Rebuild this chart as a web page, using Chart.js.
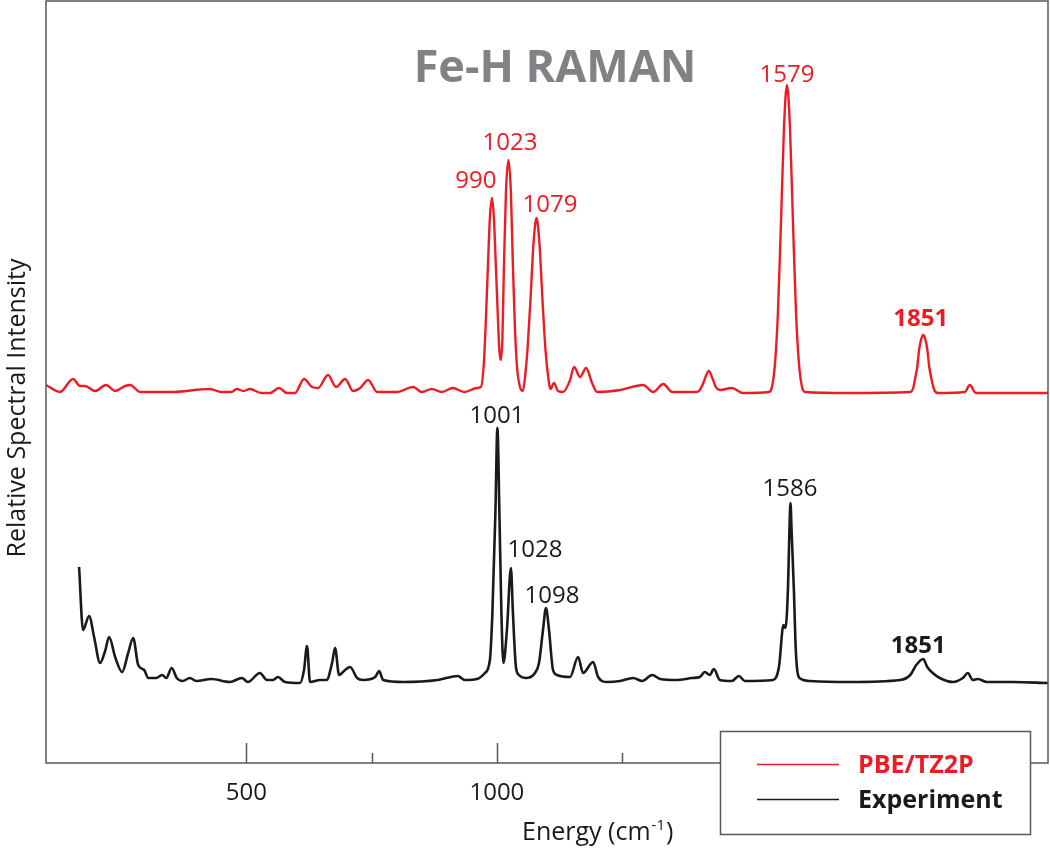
<!DOCTYPE html>
<html>
<head>
<meta charset="utf-8">
<script src="https://cdn.jsdelivr.net/npm/chart.js@4/dist/chart.umd.min.js"></script>
<style>
  html, body { margin: 0; padding: 0; background: #fff; }
  #wrap { width: 1050px; height: 848px; position: relative; }
</style>
</head>
<body>
<div id="wrap"><canvas id="raman-chart"></canvas></div>
<script>
// energies in cm-1, intensity in arbitrary units (curves are offset)
var calcEnergy = [
    100,128,154,168,178,198,220,238,258,268,
    288,350,427,450,470,481,494,507,530,547,
    565,581,597,615,631,643,663,679,697,713,
    727,743,761,781,800,833,850,870,890,912,
    935,960,968,974,978,982,986,990,994,998,
    1002,1005,1008,1011,1014,1018,1023,1028,1032,1036,
    1040,1046,1052,1057,1061,1067,1073,1079,1085,1091,
    1097,1101,1107,1114,1122,1132,1146,1154,1166,1178,
    1190,1200,1246,1292,1312,1332,1350,1399,1405,1412,
    1418,1423,1430,1437,1445,1469,1491,1543,1549,1555,
    1561,1567,1573,1579,1585,1591,1597,1603,1609,1615,
    1700,1825,1831,1835,1839,1843,1847,1851,1855,1859,
    1863,1867,1873,1880,1934,1944,1956,2100];
var calcIntensity = [
    378,371,384,377,377,372,378,372,377,378,
    371,371,374,371,371,374,372,374,370,370,
    375,370,370,384,376,375,388,376,384,372,
    375,383,371,371,371,376,371,374,371,375,
    371,375,376,400,443,496,545,565,545,496,
    445,412,403,425,496,570,603,570,496,435,
    397,376,372,390,413,463,519,545,519,463,
    413,392,374,380,372,371,383,396,386,395,
    380,371,373,378,371,379,371,371,373,380,
    388,392,385,376,373,375,370,371,376,399,
    451,540,635,678,635,540,451,399,376,371,
    370,371,375,385,396,414,424,428,424,414,
    396,385,373,370,371,378,370,370];

var expEnergy = [166,174,186,196,208,218,226,238,252,264,274,284,296,304,320,332,340,351,361,373,387,400,430,467,491,503,527,541,553,563,577,607,615,621,627,647,660,671,677,685,697,707,721,733,757,765,773,813,882,922,936,960,976,986,991,997,1001,1005,1009,1013,1020,1028,1032,1038,1044,1058,1076,1084,1092,1098,1104,1112,1120,1146,1162,1172,1192,1202,1220,1246,1272,1290,1310,1326,1359,1390,1405,1415,1425,1433,1445,1469,1483,1495,1551,1563,1572,1576,1581,1584,1586,1588,1593,1596,1599,1604,1625,1705,1805,1825,1837,1851,1859,1870,1884,1910,1930,1940,1950,1960,1978,2030,2100];
var expIntensity = [196,133,147,126,100,112,126,106,91,110,125,98,93,85,85,88,85,95,85,82,85,82,84,81,85,81,90,83,83,86,81,80,93,117,81,83,83,100,115,88,93,96,85,83,86,92,83,81,83,87,83,84,90,103,150,250,335,250,150,100,133,195,150,96,88,85,90,100,133,155,133,93,88,86,106,90,101,86,81,82,85,82,88,84,83,85,86,91,88,94,83,82,87,82,83,96,138,135,175,235,260,235,170,120,95,85,82,81,83,88,98,104,96,90,85,81,85,90,83,84,81,81,80];

var calcPeaks = ['990','1023','1079','1579','1851'];
var expPeaks = ['1001','1028','1098','1586','1851'];

var tickValues = [500,750,1000,1250,1500,1750,2000];
var majorTicks = [500,1000,1500,2000];
var tickLabels = [500,1000];

// where the peak labels sit (energy, intensity of text baseline)
var calcPeakPos = [[958,575],[1026,613],[1106,551],[1579,681],[1846,437]];
var expPeakPos = [[1000,340],[1076,206],[1110,160],[1585,267],[1841,110]];

function toPoints(xs, ys) {
    return xs.map(function (v, i) { return {x: v, y: ys[i]}; });
}

var FONT = '"Open Sans", "Noto Sans", sans-serif';

var decor = {
    id: 'decor',
    afterDraw: function (chart) {
        var ctx = chart.ctx, a = chart.chartArea;
        var xs = chart.scales.x, ys = chart.scales.y;
        ctx.save();

        // frame
        ctx.strokeStyle = '#58595b';
        ctx.lineWidth = 1.5;
        ctx.strokeRect(a.left, a.top, a.right - a.left, a.bottom - a.top);

        // inward tick marks
        xs.ticks.forEach(function (t) {
            var px = Math.round(xs.getPixelForValue(t.value)) + 0.5;
            var len = majorTicks.indexOf(t.value) >= 0 ? 20 : 10;
            ctx.beginPath();
            ctx.moveTo(px, a.bottom);
            ctx.lineTo(px, a.bottom - len);
            ctx.stroke();
        });

        // title
        ctx.fillStyle = '#808285';
        ctx.font = 'bold 45px ' + FONT;
        ctx.textAlign = 'center';
        ctx.textBaseline = 'alphabetic';
        ctx.fillText('Fe-H RAMAN', 555, 82);

        // peak labels
        function peakText(list, pos, color) {
            ctx.fillStyle = color;
            list.forEach(function (txt, i) {
                ctx.font = (i === list.length - 1 ? 'bold ' : '') + '24px ' + FONT;
                ctx.fillText(txt, xs.getPixelForValue(pos[i][0]), ys.getPixelForValue(pos[i][1]));
            });
        }
        peakText(calcPeaks, calcPeakPos, chart.data.datasets[0].borderColor);
        peakText(expPeaks, expPeakPos, '#1a1a1a');

        // axis titles
        ctx.fillStyle = '#1a1a1a';
        ctx.font = '25px ' + FONT;
        ctx.textAlign = 'left';
        var x0 = 522;
        ctx.fillText('Energy (cm', x0, 840);
        x0 += ctx.measureText('Energy (cm').width;
        ctx.font = '15px ' + FONT;
        ctx.fillText('-1', x0 + 1, 830);
        x0 += ctx.measureText('-1').width + 2;
        ctx.font = '25px ' + FONT;
        ctx.fillText(')', x0, 840);

        ctx.save();
        ctx.translate(25, 408);
        ctx.rotate(-Math.PI / 2);
        ctx.textAlign = 'center';
        ctx.fillText('Relative Spectral Intensity', 0, 0);
        ctx.restore();

        // legend box
        ctx.fillStyle = '#fff';
        ctx.fillRect(720, 731, 311, 104);
        ctx.strokeStyle = '#58595b';
        ctx.lineWidth = 1.5;
        ctx.strokeRect(720.5, 731.5, 310, 103);
        var rows = [764, 799];
        chart.data.datasets.forEach(function (ds, i) {
            ctx.strokeStyle = ds.borderColor;
            ctx.lineWidth = 1.5;
            ctx.beginPath();
            ctx.moveTo(757, rows[i] + 0.5);
            ctx.lineTo(839, rows[i] + 0.5);
            ctx.stroke();
            ctx.fillStyle = ds.borderColor;
            ctx.font = 'bold 25px ' + FONT;
            ctx.textAlign = 'left';
            ctx.fillText(ds.label, 858, rows[i] + 9);
        });

        ctx.restore();
    }
};

var ramanChart = new Chart(document.getElementById('raman-chart'), {
    type: 'line',
    data: {
        datasets: [
            {
                label: 'PBE/TZ2P',
                data: toPoints(calcEnergy, calcIntensity),
                borderColor: '#ed1c24',
                borderWidth: 2.4,
                pointRadius: 0,
                cubicInterpolationMode: 'monotone',
                fill: false
            },
            {
                label: 'Experiment',
                data: toPoints(expEnergy, expIntensity),
                borderColor: '#1a1a1a',
                borderWidth: 2.6,
                pointRadius: 0,
                cubicInterpolationMode: 'monotone',
                fill: false
            }
        ]
    },
    options: {
        responsive: true,
        maintainAspectRatio: false,
        animation: false,
        layout: { padding: { left: 46, right: 2, top: 1, bottom: 0 } },
        plugins: { legend: { display: false }, tooltip: { enabled: false } },
        scales: {
            x: {
                type: 'linear',
                min: 100,
                max: 2100,
                afterBuildTicks: function (s) {
                    s.ticks = tickValues.map(function (v) { return {value: v}; });
                },
                afterFit: function (s) { s.height = 85; },
                grid: { display: false, drawTicks: false },
                border: { display: false },
                ticks: {
                    autoSkip: false,
                    maxRotation: 0,
                    padding: 16,
                    color: '#1a1a1a',
                    font: { family: FONT, size: 24 },
                    callback: function (v) { return tickLabels.indexOf(v) >= 0 ? String(v) : ''; }
                }
            },
            y: { display: false, min: 0, max: 762 }
        }
    },
    plugins: [decor]
});
</script>
</body>
</html>
